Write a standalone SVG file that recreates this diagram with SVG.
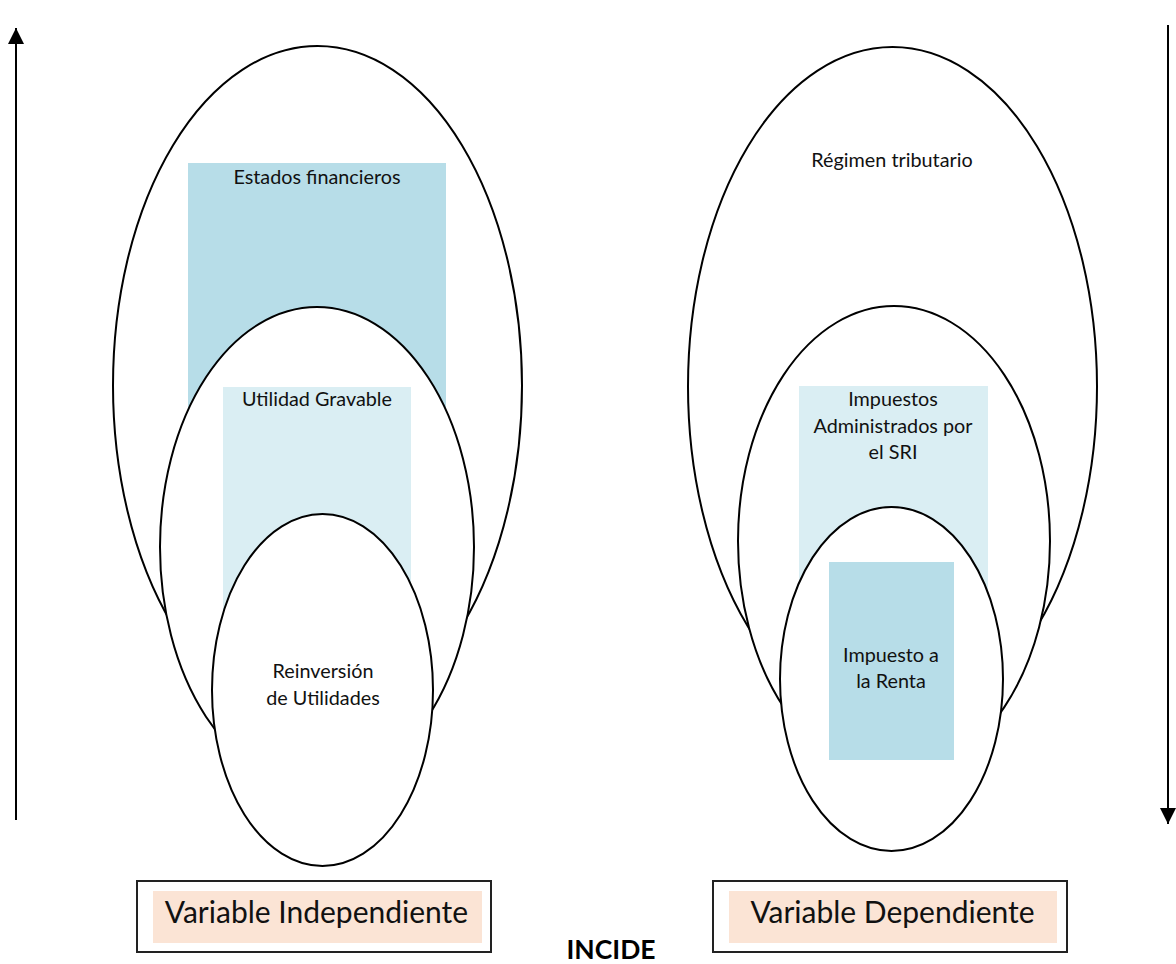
<svg xmlns="http://www.w3.org/2000/svg" width="1176" height="964" viewBox="0 0 1176 964">
  <style>
    .ell { fill: #ffffff; stroke: #000000; stroke-width: 2; }
    .dark { fill: #B7DDE8; }
    .light { fill: #DAEEF3; }
    .lbl { font-family: Lato, "Liberation Sans", sans-serif; font-size: 19.8px; fill: #111111; text-anchor: middle; }
    .var { font-family: Lato, "Liberation Sans", sans-serif; font-size: 30px; fill: #111111; text-anchor: middle; }
    .box { fill: #ffffff; stroke: #222222; stroke-width: 2; }
    .peach { fill: #FBE4D5; }
    .axis { stroke: #000000; stroke-width: 2; fill: none; }
  </style>
  <defs>
    <marker id="head" viewBox="0 0 10 10" refX="10" refY="5" markerWidth="8" markerHeight="8" markerUnits="strokeWidth" orient="auto">
      <path d="M0,0 L10,5 L0,10 Z" fill="#000000"/>
    </marker>
  </defs>

  <rect width="1176" height="964" fill="#ffffff"/>

  <!-- vertical axes -->
  <g id="connectors">
    <line class="axis" x1="16" y1="820" x2="16" y2="28" marker-end="url(#head)"/>
    <line class="axis" x1="1168" y1="25" x2="1168" y2="824" marker-end="url(#head)"/>
  </g>

  <!-- left nest -->
  <g id="estados-financieros">
    <ellipse class="ell" cx="317.5" cy="385.5" rx="204.5" ry="339.5"/>
    <rect class="dark" x="188" y="163" width="258" height="267"/>
    <text class="lbl" x="317" y="184">Estados financieros</text>
  </g>
  <g id="utilidad-gravable">
    <ellipse class="ell" cx="317" cy="547" rx="157" ry="240"/>
    <rect class="light" x="223" y="387" width="188" height="233"/>
    <text class="lbl" x="317" y="406">Utilidad Gravable</text>
  </g>
  <g id="reinversion-utilidades">
    <ellipse class="ell" cx="322.5" cy="690" rx="110.5" ry="176"/>
    <text class="lbl" x="323" y="678">Reinversión</text>
    <text class="lbl" x="323" y="705">de Utilidades</text>
  </g>

  <!-- right nest -->
  <g id="regimen-tributario">
    <ellipse class="ell" cx="892.5" cy="386.5" rx="204.5" ry="339.5"/>
    <text class="lbl" x="892" y="167">Régimen tributario</text>
  </g>
  <g id="impuestos-sri">
    <ellipse class="ell" cx="894" cy="541" rx="156" ry="235"/>
    <rect class="light" x="799" y="386" width="189" height="214"/>
    <text class="lbl" x="893" y="406">Impuestos</text>
    <text class="lbl" x="893" y="433">Administrados por</text>
    <text class="lbl" x="893" y="459">el SRI</text>
  </g>
  <g id="impuesto-renta">
    <ellipse class="ell" cx="891.5" cy="679" rx="111.5" ry="172"/>
    <rect class="dark" x="829" y="562" width="125" height="198"/>
    <text class="lbl" x="891" y="662">Impuesto a</text>
    <text class="lbl" x="891" y="688">la Renta</text>
  </g>

  <!-- variable labels -->
  <g id="variable-independiente">
    <rect class="box" x="137" y="881" width="354" height="71"/>
    <rect class="peach" x="153" y="891" width="329" height="52"/>
    <text class="var" x="316.5" y="923">Variable Independiente</text>
  </g>
  <g id="variable-dependiente">
    <rect class="box" x="713" y="881" width="354" height="71"/>
    <rect class="peach" x="729" y="891" width="328" height="52"/>
    <text class="var" x="892.5" y="923">Variable Dependiente</text>
  </g>
  <g id="incide">
    <text x="611" y="959" font-family="Lato, 'Liberation Sans', sans-serif" font-size="26.5" font-weight="bold" fill="#000000" text-anchor="middle">INCIDE</text>
  </g>
</svg>
